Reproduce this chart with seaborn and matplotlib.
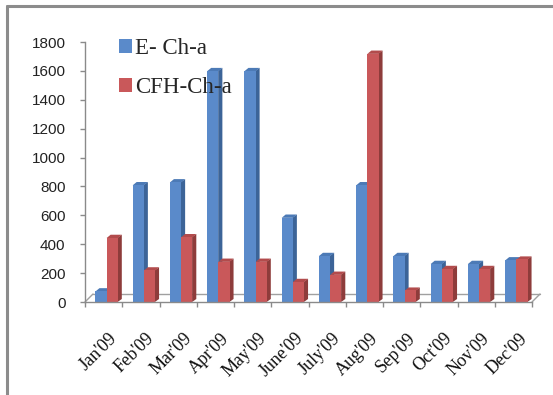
import numpy as np
import pandas as pd
import seaborn as sns
import matplotlib
matplotlib.use("Agg")
import matplotlib.pyplot as plt
import matplotlib.transforms as mtransforms
from matplotlib.patches import Polygon
from matplotlib.lines import Line2D

# Monthly chlorophyll-a values
months = ["Jan'09", "Feb'09", "Mar'09", "Apr'09", "May'09", "June'09",
          "July'09", "Aug'09", "Sep'09", "Oct'09", "Nov'09", "Dec'09"]
e_cha = [75, 810, 830, 1600, 1600, 585, 320, 810, 320, 265, 265, 290]
cfh_cha = [445, 220, 450, 280, 280, 140, 190, 1720, 80, 230, 230, 295]
series_names = ["E- Ch-a", "CFH-Ch-a"]
y_ticks = [0, 200, 400, 600, 800, 1000, 1200, 1400, 1600, 1800]

front_colors = ["#5A8ACA", "#C9585A"]
side_colors = ["#3C6498", "#8E3C3B"]
top_colors = ["#4C7AB6", "#B24B4C"]

df = pd.DataFrame({
    "month": months * 2,
    "series": [series_names[0]] * len(months) + [series_names[1]] * len(months),
    "value": e_cha + cfh_cha,
})

sns.set_style("white")
plt.rcParams["font.family"] = ["Liberation Sans", "DejaVu Sans"]

W, H = 553, 395
fig = plt.figure(figsize=(W / 100, H / 100), dpi=100)
ax = fig.add_axes([85 / W, 1 - 302 / H, (532 - 85) / W, (302 - 42) / H])

sns.barplot(data=df, x="month", y="value", hue="series", order=months,
            hue_order=series_names, palette=front_colors, saturation=1,
            width=0.6, dodge=True, ax=ax, legend=False, zorder=2,
            linewidth=0, edgecolor="none")

ax.set_xlim(-0.5, len(months) - 0.5)
ax.set_ylim(0, 1800)
ax.set_xlabel("")
ax.set_ylabel("")

# pixel -> data unit conversion for the 3D effect
ax_w_px = (532 - 85)
ax_h_px = (302 - 42)
px_x = len(months) / ax_w_px
px_y = 1800 / ax_h_px
shift = 3 * px_x
dx, dy = 4 * px_x, 3 * px_y

for k, cont in enumerate(ax.containers):
    for bar in cont:
        bar.set_x(bar.get_x() + shift)
        bar.set_linewidth(0)
        x0 = bar.get_x()
        x1 = x0 + bar.get_width()
        h = bar.get_height()
        side = Polygon([(x1 - 0.2 * px_x, 0), (x1 + dx, dy), (x1 + dx, h + dy),
                        (x1 - 0.2 * px_x, h)],
                       closed=True, facecolor=side_colors[k], edgecolor="none",
                       zorder=1.9, clip_on=False)
        top = Polygon([(x0, h - 0.3 * px_y), (x0 + dx, h + dy), (x1 + dx, h + dy),
                       (x1, h - 0.3 * px_y)],
                      closed=True, facecolor=top_colors[k], edgecolor="none",
                      zorder=1.9, clip_on=False)
        ax.add_patch(side)
        ax.add_patch(top)

# axes styling
axis_gray = "#8A8A8A"
for s in ["top", "right"]:
    ax.spines[s].set_visible(False)
for s in ["left", "bottom"]:
    ax.spines[s].set_color(axis_gray)
    ax.spines[s].set_linewidth(1.0)

ax.set_yticks(y_ticks)
ax.set_yticklabels([str(v) for v in y_ticks], fontsize=11, color="#222222")
ax.tick_params(axis="y", direction="out", length=3.6, width=1.0,
               color=axis_gray, pad=10.5, left=True)

ax.set_xticks(np.arange(len(months)))
ax.set_xticks(np.arange(len(months) + 1) - 0.5, minor=True)
ax.tick_params(axis="x", which="major", length=0, pad=20)
ax.tick_params(axis="x", which="minor", direction="out", length=3.6,
               width=1.0, color=axis_gray, bottom=True)
lab_off = mtransforms.ScaledTranslation(5 / 100, 0, fig.dpi_scale_trans)
for lab in ax.get_xticklabels():
    lab.set_rotation(45)
    lab.set_ha("right")
    lab.set_va("top")
    lab.set_rotation_mode("anchor")
    lab.set_fontfamily(["Liberation Serif", "DejaVu Serif"])
    lab.set_fontsize(13)
    lab.set_color("#111111")
    lab.set_transform(lab.get_transform() + lab_off)

# floor of the plot area
floor_off = mtransforms.ScaledTranslation(8 / 100, 8 / 100, fig.dpi_scale_trans)
t_back = ax.transAxes + floor_off
ax.add_line(Line2D([0, 1], [0, 0], transform=t_back, color="#A0A0A0",
                   lw=1.0, clip_on=False, zorder=1))
for xa in (0, 1):
    p0 = ax.transAxes.transform((xa, 0))
    p1 = t_back.transform((xa, 0))
    ax.add_line(Line2D([p0[0], p1[0]], [p0[1], p1[1]], transform=None,
                       color="#A0A0A0", lw=1.0, clip_on=False, zorder=1))

# legend
handles = [plt.Rectangle((0, 0), 1, 1, facecolor=c, edgecolor="none")
           for c in front_colors]
leg = fig.legend(handles, series_names, loc="upper left",
                 bbox_to_anchor=(119 / W, 1 - 38 / H), frameon=False,
                 prop={"family": ["Liberation Serif", "DejaVu Serif"], "size": 16.5},
                 handlelength=0.55, handleheight=0.55, handletextpad=0.15,
                 labelspacing=0.8, borderpad=0, borderaxespad=0)

# chart border (top and left edges)
border = "#8C8C8C"
fig.add_artist(Line2D([7 / W, 1], [1 - 5.5 / H, 1 - 5.5 / H],
                      transform=fig.transFigure, color=border, lw=2.2))
fig.add_artist(Line2D([7 / W, 7 / W], [0, 1 - 5.5 / H],
                      transform=fig.transFigure, color=border, lw=2.2))

fig.savefig("out.png", dpi=100)
